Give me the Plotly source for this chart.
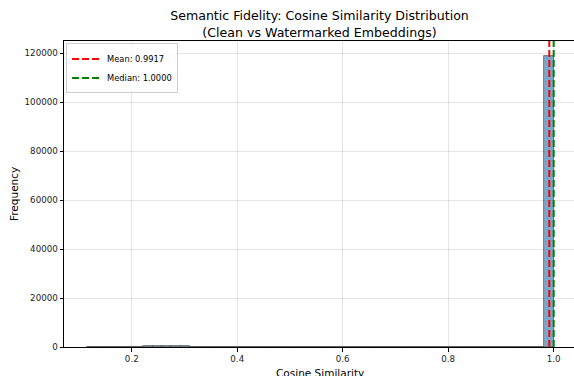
import numpy as np
import plotly.graph_objects as go

# ---- data ----
bin_min = 0.1157
bin_max = 1.0
n_bins = 50
counts = [20, 30, 50, 80, 150, 200, 250, 300, 320, 300, 250, 120, 30] + [0] * 36 + [119000]
mean_val = 0.9917
median_val = 1.0000
x_ticks = [0.2, 0.4, 0.6, 0.8, 1.0]
y_ticks = [0, 20000, 40000, 60000, 80000, 100000, 120000]

edges = np.linspace(bin_min, bin_max, n_bins + 1)
centers = (edges[:-1] + edges[1:]) / 2
width = edges[1] - edges[0]
span = bin_max - bin_min

fig = go.Figure()
fig.add_trace(go.Bar(
    x=centers, y=counts, width=width,
    marker=dict(color="rgba(70,130,180,0.7)", line=dict(color="rgba(0,0,0,0.55)", width=0.8)),
    showlegend=False, hoverinfo="x+y",
))

fig.add_shape(type="line", x0=mean_val, x1=mean_val, y0=0, y1=1, xref="x", yref="paper",
              line=dict(color="red", width=2, dash="7px,3px"), showlegend=True,
              name=f"Mean: {mean_val:.4f}")
fig.add_shape(type="line", x0=median_val, x1=median_val, y0=0, y1=1, xref="x", yref="paper",
              line=dict(color="green", width=2, dash="7px,3px"), showlegend=True,
              name=f"Median: {median_val:.4f}")

# axis titles as annotations (placed like the reference, x title partly cut at the bottom edge)
fig.add_annotation(text="Cosine Similarity", xref="paper", yref="paper",
                   x=(319.5 - 64) / 513, y=0, xanchor="center", yanchor="top",
                   yshift=-18, showarrow=False, font=dict(size=10.5, color="black"))
fig.add_annotation(text="Frequency", xref="paper", yref="paper", textangle=-90,
                   x=0, y=0.5, xanchor="right", yanchor="middle",
                   xshift=-42, showarrow=False, font=dict(size=10.5, color="black"))

font = "DejaVu Sans, Arial, sans-serif"
fig.update_layout(
    width=578, height=376,
    margin=dict(l=64, r=1, t=41, b=29),
    paper_bgcolor="white", plot_bgcolor="white",
    font=dict(family=font, color="#222"),
    title=dict(text="Semantic Fidelity: Cosine Similarity Distribution<br>(Clean vs Watermarked Embeddings)",
               x=319.5 / 578, xanchor="center", y=0.946, yanchor="top",
               font=dict(size=12.6, color="black")),
    bargap=0,
    legend=dict(x=0.004, y=0.992, xanchor="left", yanchor="top",
                bgcolor="rgba(255,255,255,0.8)", bordercolor="#ccc", borderwidth=1,
                font=dict(size=8.3, color="black"), itemwidth=30, tracegroupgap=0),
    xaxis=dict(range=[bin_min - 0.05 * span, bin_max + 0.05 * span],
               tickvals=x_ticks, ticktext=[f"{v:.1f}" for v in x_ticks],
               showgrid=True, gridcolor="rgba(0,0,0,0.1)", gridwidth=0.8,
               showline=True, linecolor="black", linewidth=1, mirror=True,
               ticks="outside", ticklen=3.5, tickcolor="black", zeroline=False,
               tickfont=dict(size=8.7, color="#222"), automargin=False),
    yaxis=dict(range=[0, 1.05 * max(counts)],
               tickvals=y_ticks, ticktext=[str(v) for v in y_ticks],
               showgrid=True, gridcolor="rgba(0,0,0,0.1)", gridwidth=0.8,
               showline=True, linecolor="black", linewidth=1, mirror=True,
               ticks="outside", ticklen=3.5, tickcolor="black", zeroline=False,
               tickfont=dict(size=8.7, color="#222"), automargin=False),
)

fig.write_html("out.html", config={"displayModeBar": False},
               post_script="document.body.style.margin='0';document.body.style.overflow='hidden';")
